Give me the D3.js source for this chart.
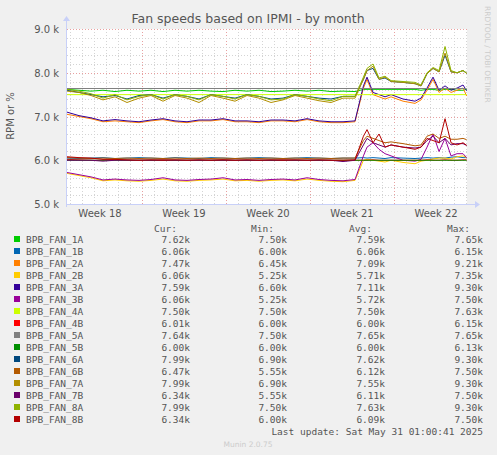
<!DOCTYPE html>
<html><head><meta charset="utf-8">
<script src="https://cdn.jsdelivr.net/npm/d3@7"></script>
<style>body{margin:0;background:#f0f0f0}svg{display:block}</style>
</head><body>
<svg id="chart" width="497" height="455"></svg>
<script>
// days since plot start
var times = [0,1,2,3,4,5,6,7,8,9,10,11,12,13,14,15,16,17,18,19,20,21,22,23,24,24.7,25,25.5,26,26.5,27,28,29,29.5,30,30.5,31,31.5,32,32.5,33,33.3];
var weekLabels = ["Week 18","Week 19","Week 20","Week 21","Week 22"];
var yTicks = [5000,6000,7000,8000,9000];

var fan1A = [7.62,7.6,7.58,7.6,7.57,7.6,7.58,7.6,7.57,7.6,7.58,7.6,7.58,7.57,7.6,7.58,7.6,7.57,7.58,7.6,7.58,7.6,7.57,7.58,7.57,7.62,7.62,7.62,7.62,7.62,7.62,7.62,7.62,7.6,7.62,7.62,7.6,7.62,7.62,7.6,7.6,7.62];
var fan1B = [6.05,6.04,6.05,6.06,6.04,6.05,6.06,6.05,6.04,6.06,6.05,6.04,6.06,6.05,6.04,6.05,6.06,6.05,6.04,6.05,6.06,6.05,6.04,6.05,6.05,6.06,6.05,6.06,6.05,6.04,6.06,6.05,6.04,6.05,6.06,6.05,6.06,6.05,6.07,6.08,6.06,6.06];
var fan2A = [7.05,7.0,6.95,6.88,6.9,6.88,6.86,6.9,6.93,6.88,6.86,6.9,6.9,6.93,6.88,6.88,6.86,6.9,6.9,6.88,6.93,6.88,6.86,6.86,6.88,7.65,7.85,7.5,7.45,7.4,7.45,7.35,7.3,7.38,7.6,7.85,7.55,7.65,7.55,7.6,7.65,7.47];
var fan2B = [5.7,5.65,5.6,5.53,5.55,5.53,5.52,5.54,5.57,5.53,5.52,5.54,5.55,5.57,5.53,5.54,5.52,5.54,5.55,5.53,5.57,5.54,5.52,5.51,5.54,6.0,6.02,6.0,5.98,5.96,6.0,5.95,5.92,5.98,6.0,6.03,6.05,6.05,6.03,6.08,6.1,6.06];
var fan3A = [7.1,7.02,6.97,6.9,6.93,6.9,6.88,6.92,6.95,6.9,6.88,6.92,6.92,6.95,6.9,6.9,6.88,6.92,6.92,6.9,6.95,6.9,6.88,6.88,6.9,7.7,7.9,7.55,7.5,7.45,7.5,7.4,7.35,7.42,7.65,7.9,7.6,7.7,7.6,7.65,7.72,7.59];
var fan3B = [5.72,5.67,5.62,5.55,5.57,5.55,5.54,5.56,5.6,5.55,5.54,5.56,5.57,5.6,5.55,5.56,5.54,5.56,5.57,5.55,5.6,5.56,5.54,5.53,5.56,6.1,6.3,6.4,6.25,6.15,6.1,6.0,5.98,6.02,6.3,6.6,6.2,6.5,6.1,6.15,6.15,6.06];
var fan4A = [7.5,7.5,7.5,7.5,7.5,7.5,7.5,7.5,7.5,7.5,7.5,7.5,7.5,7.5,7.5,7.5,7.5,7.5,7.5,7.5,7.5,7.5,7.5,7.5,7.5,7.5,7.5,7.5,7.5,7.5,7.5,7.5,7.5,7.5,7.5,7.5,7.5,7.5,7.5,7.5,7.5,7.5];
var fan4B = [6.02,6.01,6.0,6.0,6.01,6.0,6.0,6.0,6.01,6.0,6.0,6.0,6.0,6.01,6.0,6.0,6.0,6.0,6.01,6.0,6.0,6.0,6.0,6.0,6.0,6.0,6.0,6.01,6.0,6.0,6.0,6.0,6.0,6.0,6.01,6.0,6.0,6.01,6.0,6.0,6.01,6.01];
var fan5A = [7.64,7.64,7.64,7.64,7.64,7.64,7.64,7.64,7.64,7.64,7.64,7.64,7.64,7.64,7.64,7.64,7.64,7.64,7.64,7.64,7.64,7.64,7.64,7.64,7.64,7.64,7.64,7.64,7.64,7.64,7.64,7.64,7.64,7.64,7.64,7.64,7.64,7.64,7.64,7.64,7.64,7.64];
var fan5B = [6.0,6.0,6.0,6.0,6.0,6.0,6.0,6.0,6.0,6.0,6.0,6.0,6.0,6.0,6.0,6.0,6.0,6.0,6.0,6.0,6.0,6.0,6.0,6.0,6.0,6.0,6.0,6.0,6.0,6.0,6.0,6.0,6.0,6.0,6.0,6.0,6.0,6.0,6.0,6.0,6.0,6.0];
var fan6A = [7.6,7.55,7.5,7.45,7.48,7.4,7.48,7.5,7.42,7.5,7.46,7.4,7.5,7.46,7.42,7.5,7.46,7.4,7.42,7.5,7.46,7.42,7.4,7.46,7.46,7.85,8.05,8.1,7.85,7.88,7.8,7.78,7.75,7.7,7.98,8.1,8.02,8.4,8.02,8.0,8.05,7.99];
var fan6B = [6.06,6.05,6.04,6.05,6.04,6.05,6.04,6.05,6.04,6.05,6.04,6.05,6.04,6.05,6.04,6.05,6.04,6.05,6.04,6.05,6.04,6.05,6.04,6.05,6.05,6.45,6.55,6.5,6.45,6.4,6.42,6.38,6.33,6.35,6.55,6.6,6.5,6.55,6.48,6.48,6.5,6.47];
var fan7A = [7.58,7.55,7.48,7.38,7.45,7.32,7.42,7.48,7.35,7.48,7.42,7.32,7.48,7.42,7.35,7.48,7.42,7.32,7.38,7.48,7.42,7.36,7.32,7.42,7.42,7.85,8.05,8.15,7.85,7.9,7.8,7.78,7.75,7.7,7.98,8.1,8.02,8.45,8.02,8.0,8.05,7.99];
var fan7B = [6.0,6.0,6.0,5.98,6.0,6.0,6.0,6.0,6.0,6.0,6.0,6.0,6.0,6.0,6.0,6.0,6.0,6.0,6.0,6.0,6.0,6.0,6.0,5.97,6.0,6.35,6.5,6.4,6.35,6.3,6.35,6.3,6.28,6.3,6.45,6.55,6.4,6.5,6.35,6.38,6.38,6.34];
var fan8A = [7.62,7.58,7.52,7.42,7.5,7.38,7.46,7.5,7.4,7.5,7.46,7.38,7.5,7.46,7.4,7.5,7.46,7.38,7.4,7.5,7.46,7.4,7.36,7.46,7.46,7.9,8.1,8.2,7.88,7.92,7.82,7.8,7.78,7.72,8.0,8.12,8.05,8.6,8.05,8.0,8.05,7.99];
var fan8B = [6.08,6.06,6.05,6.02,6.02,6.01,6.0,6.01,6.0,6.01,6.0,6.01,6.0,6.01,6.0,6.01,6.0,6.01,6.0,6.01,6.0,6.01,6.0,6.0,6.01,6.55,6.7,6.4,6.6,6.3,6.35,6.3,6.25,6.3,6.5,6.45,6.4,6.95,6.4,6.35,6.4,6.34];

var names = ["BPB_FAN_1A","BPB_FAN_1B","BPB_FAN_2A","BPB_FAN_2B","BPB_FAN_3A","BPB_FAN_3B","BPB_FAN_4A","BPB_FAN_4B","BPB_FAN_5A","BPB_FAN_5B","BPB_FAN_6A","BPB_FAN_6B","BPB_FAN_7A","BPB_FAN_7B","BPB_FAN_8A","BPB_FAN_8B"];
var colors = ["#00cc00","#0066b3","#ff8000","#ffcc00","#330099","#990099","#ccff00","#ff0000","#808080","#008f00","#00487d","#b35a00","#b38f00","#6b006b","#8fb300","#b30000"];
var series = [fan1A,fan1B,fan2A,fan2B,fan3A,fan3B,fan4A,fan4B,fan5A,fan5B,fan6A,fan6B,fan7A,fan7B,fan8A,fan8B];
var cur = ["7.62k","6.06k","7.47k","6.06k","7.59k","6.06k","7.50k","6.01k","7.64k","6.00k","7.99k","6.47k","7.99k","6.34k","7.99k","6.34k"];
var mins = ["7.50k","6.00k","6.45k","5.25k","6.60k","5.25k","7.50k","6.00k","7.50k","6.00k","6.90k","5.55k","6.90k","5.55k","7.50k","6.00k"];
var avgs = ["7.59k","6.06k","7.09k","5.71k","7.11k","5.72k","7.50k","6.00k","7.65k","6.00k","7.62k","6.12k","7.55k","6.11k","7.63k","6.09k"];
var maxs = ["7.65k","6.15k","9.21k","7.35k","9.30k","7.50k","7.63k","6.15k","7.65k","6.13k","9.30k","7.50k","9.30k","7.50k","9.30k","7.50k"];

var svg = d3.select("#chart");
var L = 67, R = 467, T = 29, B = 204;
var x = d3.scaleLinear().domain([0, 33.33]).range([L, R]);
var y = d3.scaleLinear().domain([5000, 9000]).range([B, T]);

svg.append("rect").attr("x", L).attr("y", T).attr("width", R - L).attr("height", B - T).attr("fill", "#fff");

// grid: days dotted, week boundaries red dashed (week 18 starts at -0.75 day)
var g = svg.append("g");
d3.range(0, 34).forEach(function(d){
  var t = d + 0.25;
  var wk = (d + 1) % 7 == 0;
  g.append("line").attr("x1", x(t)).attr("x2", x(t)).attr("y1", T).attr("y2", B)
    .attr("stroke", wk ? "#e8a0a0" : "#d4d4d4").attr("stroke-dasharray", wk ? "1,2" : "1,2").attr("shape-rendering","crispEdges");
});
d3.range(5000, 9001, 200).forEach(function(v){
  var major = v % 1000 == 0;
  g.append("line").attr("x1", L).attr("x2", R).attr("y1", Math.round(y(v)) + 0.5).attr("y2", Math.round(y(v)) + 0.5)
    .attr("stroke", major ? "#e8a0a0" : "#d4d4d4").attr("stroke-dasharray", "1,2");
});

var line = d3.line().x(function(d, i){ return x(times[i]); }).y(function(d){ return y(d * 1000); });
series.forEach(function(s, i){
  svg.append("path").attr("d", line(s)).attr("fill", "none").attr("stroke", colors[i]).attr("stroke-width", 1);
});

// axes
var axc = "#c8d0f8";
svg.append("line").attr("x1", L).attr("x2", R + 8).attr("y1", B + 0.5).attr("y2", B + 0.5).attr("stroke", axc);
svg.append("line").attr("x1", L - 0.5).attr("x2", L - 0.5).attr("y1", B + 3).attr("y2", T - 8).attr("stroke", axc);
svg.append("path").attr("d", "M" + (R + 8) + "," + (B - 3) + "l5,3.5l-5,3.5z").attr("fill", axc);
svg.append("path").attr("d", "M" + (L - 4) + "," + (T - 8) + "l3.5,-5l3.5,5z").attr("fill", axc);

var txt = "#555";
var f = "DejaVu Sans, sans-serif";
yTicks.forEach(function(v){
  svg.append("text").attr("x", L - 8).attr("y", y(v) + 4).attr("text-anchor", "end")
    .attr("font-family", f).attr("font-size", 10).attr("fill", txt).text(d3.format(".1f")(v / 1000) + " k");
});
weekLabels.forEach(function(w, i){
  svg.append("text").attr("x", x(-0.75 + 7 * i + 3.5)).attr("y", B + 13).attr("text-anchor", "middle")
    .attr("font-family", f).attr("font-size", 10).attr("fill", txt).text(w);
});
svg.append("text").attr("x", 248).attr("y", 23).attr("text-anchor", "middle")
  .attr("font-family", f).attr("font-size", 12.5).attr("fill", txt).text("Fan speeds based on IPMI - by month");
svg.append("text").attr("transform", "translate(14,116) rotate(-90)").attr("text-anchor", "middle")
  .attr("font-family", f).attr("font-size", 10).attr("fill", txt).text("RPM or %");
svg.append("text").attr("transform", "translate(485,6) rotate(90)").attr("text-anchor", "start")
  .attr("font-family", f).attr("font-size", 7.5).attr("fill", "#ccc").text("RRDTOOL / TOBI OETIKER");

// legend
var mono = "DejaVu Sans Mono, monospace";
var cols = [190, 287, 385, 483];
["Cur:","Min:","Avg:","Max:"].forEach(function(h, j){
  svg.append("text").attr("x", cols[j] - 13).attr("y", 232).attr("text-anchor", "end")
    .attr("font-family", mono).attr("font-size", 9.5).attr("fill", txt).text(h);
});
names.forEach(function(n, i){
  var yy = 243 + i * 12;
  svg.append("rect").attr("x", 14).attr("y", yy - 7).attr("width", 6).attr("height", 6).attr("fill", colors[i]);
  svg.append("text").attr("x", 26).attr("y", yy).attr("font-family", mono).attr("font-size", 9.5).attr("fill", txt).text(n);
  [cur[i], mins[i], avgs[i], maxs[i]].forEach(function(v, j){
    svg.append("text").attr("x", cols[j]).attr("y", yy).attr("text-anchor", "end")
      .attr("font-family", mono).attr("font-size", 9.5).attr("fill", txt).text(v);
  });
});
svg.append("text").attr("x", 483).attr("y", 435).attr("text-anchor", "end")
  .attr("font-family", mono).attr("font-size", 9.5).attr("fill", txt).text("Last update: Sat May 31 01:00:41 2025");
svg.append("text").attr("x", 248).attr("y", 447).attr("text-anchor", "middle")
  .attr("font-family", f).attr("font-size", 7.5).attr("fill", "#ccc").text("Munin 2.0.75");
</script>
</body></html>
